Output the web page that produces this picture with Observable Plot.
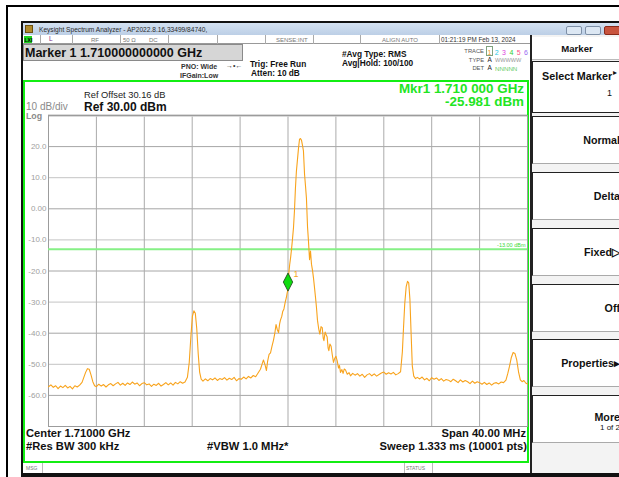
<!DOCTYPE html>
<html><head><meta charset="utf-8">
<script src="https://cdn.jsdelivr.net/npm/d3@7"></script>
<script src="https://cdn.jsdelivr.net/npm/@observablehq/plot@0.6"></script>
<style>
body{margin:0;background:#fff;}
#root{position:relative;width:619px;height:477px;overflow:hidden;font-family:"Liberation Sans",Arial,sans-serif;background:#fff;}
.a{position:absolute;box-sizing:border-box;}
.t{position:absolute;white-space:nowrap;line-height:1;}
#root svg{position:absolute;left:0;top:0;}
</style></head><body><div id="root"></div>
<script>
// ---- data ----
const traceMHz = [
1690.0,1690.2,1690.4,1690.6,1690.8,1691.0,1691.2,1691.4,1691.6,1691.8,1692.0,1692.2,1692.4,1692.6,
1692.8,1692.95,1693.1,1693.25,1693.4,1693.55,1693.7,1693.85,1694.0,
1694.2,1694.4,1694.6,1694.8,1695.0,1695.2,1695.4,1695.6,1695.8,1696.0,1696.2,1696.4,1696.6,1696.8,
1697.0,1697.2,1697.4,1697.6,1697.8,1698.0,1698.2,1698.4,1698.6,1698.8,1699.0,1699.2,1699.4,1699.6,
1699.8,1700.0,1700.2,1700.4,1700.6,1700.8,1701.0,1701.2,1701.4,
1701.6,1701.75,1701.9,1702.02,1702.14,1702.26,1702.38,1702.5,1702.62,1702.75,1702.9,
1703.1,1703.3,1703.5,1703.7,1703.9,1704.1,1704.3,1704.5,1704.7,1704.9,1705.1,1705.3,1705.5,1705.7,
1705.9,1706.1,1706.3,1706.5,1706.7,1706.9,1707.1,1707.3,1707.5,
1707.7,1707.85,1707.95,1708.1,1708.2,1708.3,1708.42,1708.54,1708.66,1708.79,1708.9,1709.0,1709.1,
1709.21,1709.3,1709.37,1709.48,1709.56,1709.66,1709.76,1709.86,1709.94,1710.0,1710.06,1710.14,
1710.22,1710.3,1710.38,1710.46,1710.54,1710.62,1710.7,1710.79,1710.88,1710.96,1711.04,1711.13,
1711.21,1711.29,1711.38,1711.46,1711.54,1711.63,1711.71,1711.8,1711.88,1711.96,1712.05,1712.13,
1712.22,1712.3,1712.38,1712.46,1712.56,1712.66,1712.76,1712.86,1712.94,1713.0,1713.1,1713.18,
1713.27,1713.35,1713.41,1713.5,1713.6,1713.7,1713.8,1713.9,1714.0,1714.11,1714.22,1714.3,1714.38,
1714.5,1714.6,1714.7,1714.8,1714.95,1715.1,1715.22,
1715.4,1715.6,1715.8,1716.0,1716.2,1716.4,1716.6,1716.8,1717.0,1717.2,1717.4,1717.6,1717.8,1718.0,
1718.2,1718.4,1718.6,1718.8,1719.0,1719.2,1719.4,
1719.55,1719.65,1719.75,1719.87,1719.98,1720.08,1720.18,1720.28,1720.38,1720.5,1720.65,
1720.8,1721.0,1721.2,1721.4,1721.6,1721.8,1722.0,1722.2,1722.4,1722.6,1722.8,1723.0,1723.2,1723.4,
1723.6,1723.8,1724.0,1724.2,1724.4,1724.6,1724.8,1725.0,1725.2,1725.4,1725.6,1725.8,1726.0,1726.2,
1726.4,1726.6,1726.8,1727.0,1727.2,1727.4,1727.6,1727.8,1728.0,1728.2,
1728.35,1728.5,1728.65,1728.8,1728.95,1729.1,1729.25,1729.4,1729.55,1729.7,1729.85,1730.0
];
const traceDbm = [
-57.2,-56.6,-57.4,-56.9,-57.8,-57.0,-57.5,-56.8,-57.6,-57.1,-57.9,-56.9,-57.3,-56.7,
-55.8,-54.2,-52.6,-51.4,-51.6,-53.4,-55.6,-56.9,-57.2,
-56.4,-57.0,-56.5,-57.3,-56.6,-56.2,-56.9,-56.3,-55.8,-56.7,-56.1,-56.8,-56.0,-56.5,
-55.7,-56.4,-56.0,-56.9,-56.2,-55.9,-56.6,-56.3,-57.1,-56.4,-56.8,-56.1,-57.0,-56.5,
-55.9,-56.6,-56.0,-56.7,-55.8,-56.3,-55.6,-56.1,-55.7,
-54.2,-49.5,-40.5,-34.5,-32.8,-33.6,-38.5,-46.5,-52.5,-54.8,-55.4,
-54.7,-55.3,-54.6,-55.0,-54.4,-55.2,-54.6,-54.9,-54.3,-55.1,-54.5,-54.9,-54.2,-55.3,
-54.6,-54.8,-54.1,-54.7,-53.9,-54.4,-53.6,-54.0,-52.8,
-51.6,-49.8,-48.6,-50.4,-52.0,-49.0,-46.8,-46.3,-44.2,-42.2,-40.0,-37.2,-38.8,
-39.8,-37.0,-35.8,-34.6,-33.0,-32.2,-30.2,-28.6,-26.9,-25.98,-21.0,-18.0,
-15.6,-12.8,-9.5,-6.0,-0.6,6.5,12.0,15.8,19.6,22.3,22.6,22.0,
20.4,18.6,11.2,7.4,3.4,-5.8,-10.4,-16.4,-13.6,-17.8,-19.9,-22.3,
-25.6,-28.6,-31.8,-35.8,-38.5,-40.3,-37.9,-38.2,-41.6,-42.4,-39.6,-40.4,
-41.2,-44.8,-45.6,-43.5,-44.2,-47.0,-49.4,-48.1,-47.4,-48.9,-51.2,-50.4,-52.6,
-51.7,-52.9,-51.5,-51.8,-53.2,-52.7,-53.7,
-52.9,-53.5,-53.0,-53.8,-53.2,-54.2,-53.4,-53.0,-53.7,-53.1,-53.8,-53.3,-52.8,-52.5,
-53.2,-52.7,-53.1,-52.6,-53.4,-53.0,-52.4,
-46.0,-38.0,-30.5,-25.0,-23.3,-23.8,-29.0,-40.0,-50.5,-53.8,-54.6,
-54.2,-54.7,-54.1,-55.0,-54.5,-55.3,-54.3,-54.8,-54.4,-55.2,-54.6,-55.4,-54.9,-55.1,
-55.6,-54.8,-55.3,-55.9,-55.0,-55.7,-55.2,-55.6,-56.2,-55.4,-56.1,-55.6,-55.9,-56.4,
-55.8,-56.5,-56.0,-56.7,-56.1,-55.9,-56.3,-55.7,-55.9,-55.1,
-53.0,-50.6,-47.8,-46.2,-46.5,-48.6,-52.4,-55.0,-55.6,-55.2,-56.0,-56.3
];
const yTicks = [20,10,0,-10,-20,-30,-40,-50,-60];
const xGrid = [1694,1698,1702,1706,1710,1714,1718,1722,1726];
const freqDomain = [1690,1730];
const levelDomain = [-70,30];
const markerMHz = [1710.0];
const markerDbm = [-25.981];
const markerLabel = ["1"];
const displayLineDbm = [-13];
const displayLineLabel = ["-13.00 dBm"];
const softKeys = ["Normal","Delta","Fixed\u25B7","Off","Properties\u25B8"];

// ---- helpers for instrument chrome ----
const root = document.getElementById("root");
function box(x,y,w,h,css){const d=document.createElement("div");d.className="a";
  Object.assign(d.style,{left:x+"px",top:y+"px",width:w+"px",height:h+"px"},css||{});root.appendChild(d);return d;}
function txt(s,x,base,size,o){o=o||{};const d=document.createElement("div");d.className="t";d.textContent=s;
  Object.assign(d.style,{left:x+"px",top:(base-0.85*size)+"px",fontSize:size+"px",color:o.c||"#111",fontWeight:o.b?"bold":"normal"});
  if(o.anchor==="end")d.style.transform="translateX(-100%)";
  if(o.anchor==="middle")d.style.transform="translateX(-50%)";
  root.appendChild(d);return d;}

// outer frame
box(6,5,613,2,{background:"#000"});
box(6,5,2,472,{background:"#000"});
// window
box(21,21,598,2,{background:"#111"});
box(21,21,2,456,{background:"#111"});
box(23,23,596,12,{background:"linear-gradient(#d3e1f1,#bccfe6)"});
box(25,25,8,8,{background:"#b08a2a",border:"1px solid #6b5010"});
txt("Keysight Spectrum Analyzer - AP2022.8.16,33499/84740,",39,32.5,6.6,{c:"#2a2a2a"});
box(566,26,16,9,{background:"#dce7f3",border:"1px solid #7d8fa6",borderRadius:"2px"});
box(585,26,16,9,{background:"#dce7f3",border:"1px solid #7d8fa6",borderRadius:"2px"});
box(604,26,18,9,{background:"#c9543e",border:"1px solid #8a2a1a",borderRadius:"2px"});
// status row
box(23,35,507,9,{background:"#fff",borderBottom:"1px solid #999"});
box(24,36,8,7,{background:"#1fd51f"});
txt("LXI",24.5,42,5,{b:true,c:"#000"});
[40,72,120,168,217,265,313,360,439].forEach(x=>box(x,35,1,9,{background:"#aaa"}));
txt("L",49,42,6.5,{c:"#7a2a8a"});
txt("RF",91,42,6,{c:"#777"});
txt("50 \u03A9",123,42,6,{c:"#777"});
txt("DC",149,42,6,{c:"#777"});
txt("SENSE:INT",276,42,6,{c:"#777"});
txt("ALIGN AUTO",382,42,6,{c:"#777"});
txt("01:21:19 PM Feb 13, 2024",441,42,6.3,{c:"#333"});
// marker header
box(23,44,220,17,{background:"#d6d6d6",border:"1px solid #8a8a8a"});
txt("Marker 1 1.710000000000 GHz",25,57.5,12.5,{b:true,c:"#111"});
txt("PNO: Wide",181,68.5,7,{b:true,c:"#333"});
txt("\u2192\u2022\u2190",226,68,7,{c:"#333"});
txt("IFGain:Low",180,77.5,7,{b:true,c:"#333"});
txt("Trig: Free Run",250,67,8.3,{b:true});
txt("Atten: 10 dB",251,76.5,8.3,{b:true});
txt("#Avg Type: RMS",342,57,8.3,{b:true});
txt("Avg|Hold: 100/100",342,66.5,8.3,{b:true});
txt("TRACE",484,54,5.8,{c:"#555",anchor:"end"});
txt("TYPE",484,62.5,5.8,{c:"#555",anchor:"end"});
txt("DET",484,70.5,5.8,{c:"#555",anchor:"end"});
box(486,46,7,10,{border:"1px solid #7fa27f"});
[["1","#f5a020"],["2","#29c8e8"],["3","#e040e0"],["4","#33cc33"],["5","#ff4d88"],["6","#9a6af0"]]
  .forEach((d,i)=>txt(d[0],487.5+i*7.3,54.5,7,{c:d[1]}));
txt("A",487.5,62.5,6.5,{c:"#222"});
txt("WWWWW",495,62.5,5.6,{c:"#999"});
txt("A",487.5,71,6.5,{c:"#222"});
txt("NNNNN",495,71,6.2,{c:"#6c6"});
// green measurement frame
box(23,80,506,383,{border:"2px solid #13ee13"});
txt("Ref Offset 30.16 dB",84,99.3,9.3,{c:"#222"});
txt("10 dB/div",26,110,10,{c:"#8a8a8a"});
txt("Ref 30.00 dBm",84,111,12,{b:true,c:"#111"});
txt("Log",26,119.8,8.8,{b:true,c:"#8a8a8a"});
txt("Mkr1 1.710 000 GHz",524,93,13.4,{b:true,c:"#22e522",anchor:"end"});
txt("-25.981 dBm",524,106.5,13.4,{b:true,c:"#22e522",anchor:"end"});
txt("Center 1.71000 GHz",26,437.5,11.2,{b:true});
txt("#Res BW 300 kHz",26,450.5,11.2,{b:true});
txt("#VBW 1.0 MHz*",207,450.5,11.2,{b:true});
txt("Span 40.00 MHz",526,437.5,11.2,{b:true,anchor:"end"});
txt("Sweep   1.333 ms (10001 pts)",527,450.5,11.2,{b:true,anchor:"end"});
// message row
box(23,463,507,10,{background:"#fff"});
box(42,463,1,10,{background:"#bbb"});
box(404,463,1,10,{background:"#bbb"});
box(432,463,1,10,{background:"#bbb"});
txt("MSG",26,470.5,5,{c:"#777"});
txt("STATUS",406,470.5,5,{c:"#777"});
box(21,473,598,4,{background:"#111"});
// soft-key panel
box(530,35,89,438,{background:"#f3f3f3",borderLeft:"2px solid #222"});
box(532,37,87,23,{background:"#fff",borderBottom:"1px solid #bbb"});
txt("Marker",577,52.5,9.6,{b:true,anchor:"middle"});
box(532,61,87,52,{background:"#fff",border:"1.5px solid #222",borderRight:"none"});
txt("Select Marker",542,80.5,10.8,{b:true});
txt("\u25B8",613,76,8,{c:"#111"});
txt("1",607,97,9,{c:"#111"});
const keyTops=[116,172,228,284,339];
softKeys.forEach((k,i)=>{box(532,keyTops[i],87,48,{background:"#fff",border:"1.5px solid #222",borderRight:"none",borderBottom:"1.5px solid #aaa"});
  txt(k,620,keyTops[i]+28,10.7,{b:true,anchor:"end"});});
box(532,395,87,48,{background:"#fff",border:"1.5px solid #222",borderRight:"none",borderBottom:"1.5px solid #aaa"});
txt("More",620,421,10.7,{b:true,anchor:"end"});
txt("1 of 2",620,431,8,{anchor:"end"});

// ---- the spectrum plot ----
const trace = traceMHz.map((f,i)=>({f, v: traceDbm[i]}));
const marker = markerMHz.map((f,i)=>({f, v: markerDbm[i], label: markerLabel[i]}));
const dline = displayLineDbm.map((v,i)=>({f: freqDomain[1], v, label: displayLineLabel[i]}));
const diamond = {draw(ctx){ctx.moveTo(0,1.5);ctx.lineTo(4.7,-7.5);ctx.lineTo(0,-16.5);ctx.lineTo(-4.7,-7.5);ctx.closePath();}};
const fmt = d => d === 0 ? "0.00" : d.toFixed(1);

const chart = Plot.plot({
  width: 619, height: 477,
  marginLeft: 48, marginRight: 92, marginTop: 115, marginBottom: 51,
  x: {domain: freqDomain, axis: null},
  y: {domain: levelDomain, axis: null},
  style: {background: "transparent", fontFamily: "Liberation Sans, Arial, sans-serif", overflow: "visible"},
  marks: [
    Plot.ruleY(yTicks.filter((d,i)=>i%2===0), {stroke: "#a6a6a6", strokeWidth: 1}),
    Plot.ruleY(yTicks.filter((d,i)=>i%2===1), {stroke: "#c4c4c4", strokeWidth: 1}),
    Plot.ruleX(xGrid, {stroke: "#ababab", strokeWidth: 1}),
    Plot.ruleY([levelDomain[1]], {stroke: "#cfcfcf", strokeWidth: 2.5}),
    Plot.frame({stroke: "#9c9c9c"}),
    Plot.text(yTicks, {x: () => freqDomain[0], y: d => d, text: fmt, textAnchor: "end", dx: -2, fill: "#a0a0a0", fontSize: 8}),
    Plot.ruleY(dline, {y: "v", stroke: "#86f086", strokeWidth: 2}),
    Plot.text(dline, {x: "f", y: "v", text: "label", textAnchor: "end", dx: -2, dy: -4, fill: "#3ad83a", fontSize: 5.5}),
    Plot.line(trace, {x: "f", y: "v", stroke: "#f8a31c", strokeWidth: 1.1, strokeLinejoin: "round"}),
    Plot.dot(marker, {x: "f", y: "v", symbol: diamond, r: 5, fill: "#0fdc0f", stroke: "#1a3a1a", strokeWidth: 0.8}),
    Plot.text(marker, {x: "f", y: "v", text: "label", dx: 8, dy: -15, fill: "#f5a623", fontSize: 9})
  ]
});
root.appendChild(chart);
</script>
</body></html>
